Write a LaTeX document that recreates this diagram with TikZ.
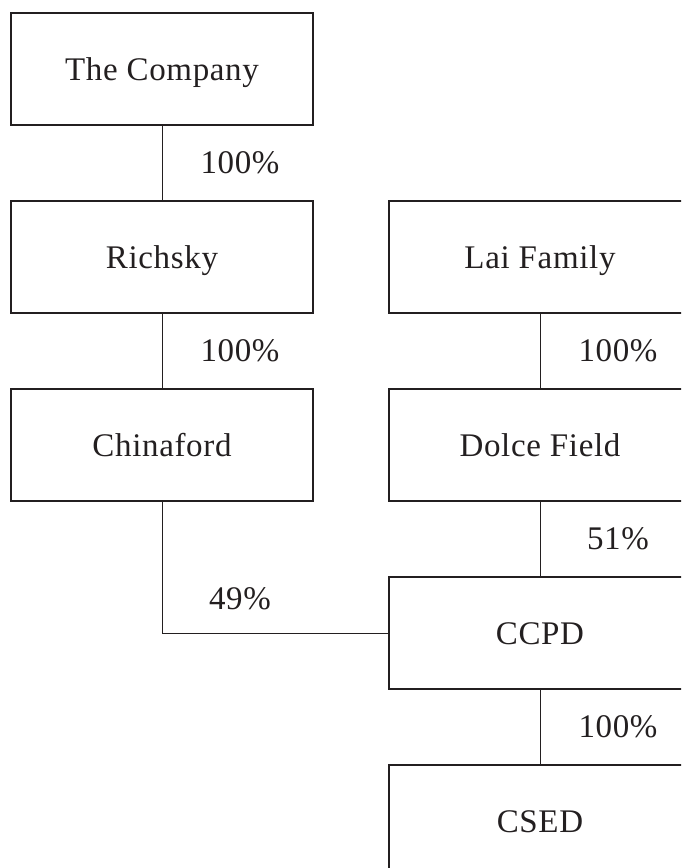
\documentclass[tikz,border=0pt]{standalone}
\usepackage{fontspec}
\setmainfont[LetterSpace=2]{Liberation Serif}
\usetikzlibrary{positioning}
\definecolor{ink}{RGB}{35,31,32}
\begin{document}
\begin{tikzpicture}[node distance={38pt}, x=0.5pt, y=-0.5pt,
  box/.style = {draw=ink, line width=0.55pt, text=ink, minimum width=151pt, minimum height=56pt, inner sep=0pt, outer sep=0pt, text height=11pt, text depth=0pt, font=\fontsize{16.5}{20}\selectfont},
  pct/.style = {text=ink, xshift=39pt, font=\fontsize{16.5}{20}\selectfont},
  link/.style = {draw=ink, line width=0.5pt}]
  \useasboundingbox (0,0) rectangle (681,868);
  \clip (0,0) rectangle (681,868);

  \node[box] (company) at (162,69) {The Company};
  \node[box, below = of company] (richsky) {Richsky};
  \node[box, below = of richsky] (chinaford) {Chinaford};
  \node[box, right = of richsky] (lai) {Lai Family};
  \node[box, below = of lai] (dolce) {Dolce Field};
  \node[box, below = of dolce] (ccpd) {CCPD};
  \node[box, below = of ccpd] (csed) {CSED};

  \draw[link] (company) -- (richsky) node[pct, midway] {100\%};
  \draw[link] (richsky) -- (chinaford) node[pct, midway] {100\%};
  \draw[link] (lai) -- (dolce) node[pct, midway] {100\%};
  \draw[link] (dolce) -- (ccpd) node[pct, midway] {51\%};
  \draw[link] (ccpd) -- (csed) node[pct, midway] {100\%};
  \draw[link] (chinaford) |- (ccpd) node[pct, pos=0.37] {49\%};
\end{tikzpicture}
\end{document}
